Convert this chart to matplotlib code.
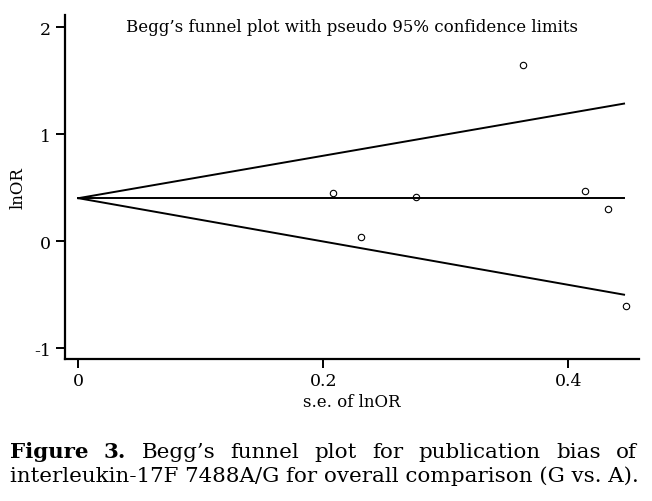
import matplotlib
matplotlib.use("Agg")
import matplotlib.pyplot as plt

# ---- data ----
se_lnor = [0.363, 0.208, 0.276, 0.414, 0.432, 0.231, 0.447]
lnor = [1.645, 0.449, 0.411, 0.467, 0.299, 0.037, -0.607]
limit_se = [0.0, 0.4455]          # s.e. range of the pseudo confidence limits
pooled = [0.403, 0.403]           # pooled lnOR line
upper_limit = [0.403, 1.287]      # upper pseudo 95% limit
lower_limit = [0.403, -0.499]     # lower pseudo 95% limit
x_ticks = [0, 0.2, 0.4]
x_ticklabels = ["0", "0.2", "0.4"]
y_ticks = [-1, 0, 1, 2]
y_ticklabels = ["-1", "0", "1", "2"]
title = "Begg\u2019s funnel plot with pseudo 95% confidence limits"
xlabel = "s.e. of lnOR"
ylabel = "lnOR"
cap_bold = "Figure 3."
cap_line1_rest = "Begg\u2019s funnel plot for publication bias of"
cap_line2 = "interleukin-17F 7488A/G for overall comparison (G vs. A)."

serif = ["DejaVu Serif"]

fig = plt.figure(figsize=(6.52, 5.02), dpi=100)
W, H = 652, 502
ax = fig.add_axes([64.5 / W, 1 - 360 / H, (639 - 64.5) / W, (360 - 16) / H])

ax.plot(limit_se, upper_limit, color="black", lw=1.4)
ax.plot(limit_se, lower_limit, color="black", lw=1.4)
ax.plot(limit_se, pooled, color="black", lw=1.4)
ax.plot(se_lnor, lnor, linestyle="none", marker="o", markersize=4.6,
        markerfacecolor="none", markeredgecolor="black", markeredgewidth=0.8)

ax.set_xlim(-0.0113, 0.4577)
ax.set_ylim(-1.10, 2.115)
ax.set_xticks(x_ticks)
ax.set_xticklabels(x_ticklabels, family=serif, fontsize=12.5)
ax.set_yticks(y_ticks)
ax.set_yticklabels(y_ticklabels, family=serif, fontsize=12.5)
ax.tick_params(direction="out", length=6.5, width=1.4, pad=3)
for s in ["top", "right"]:
    ax.spines[s].set_visible(False)
for s in ["left", "bottom"]:
    ax.spines[s].set_linewidth(1.6)

ax.set_xlabel(xlabel, family=serif, fontsize=12, labelpad=3)
ax.set_ylabel(ylabel, family=serif, fontsize=12, labelpad=6)
ax.text(0.5, 0.966, title, transform=ax.transAxes, ha="center", va="center",
        family=serif, fontsize=12)

# caption (justified line 1)
fig.canvas.draw()
r = fig.canvas.get_renderer()
cap_size = 15.4
left_px, right_px = 10, 637
y1 = 1 - 458 / H
y2 = 1 - 482 / H
fig.text(left_px / W, y2, cap_line2, family=serif, fontsize=cap_size,
         ha="left", va="baseline")
words = [(w, "bold") for w in cap_bold.split()] + \
        [(w, "normal") for w in cap_line1_rest.split()]
texts = []
widths = []
for w, fw in words:
    t = fig.text(0, y1, w, family=serif, fontsize=cap_size, fontweight=fw,
                 ha="left", va="baseline")
    bb = t.get_window_extent(renderer=r)
    texts.append(t)
    widths.append(bb.width)
gap = ((right_px - left_px) - sum(widths)) / (len(words) - 1)
x = left_px
for t, wd in zip(texts, widths):
    t.set_x(x / W)
    x += wd + gap

fig.savefig("out.png", dpi=100)
